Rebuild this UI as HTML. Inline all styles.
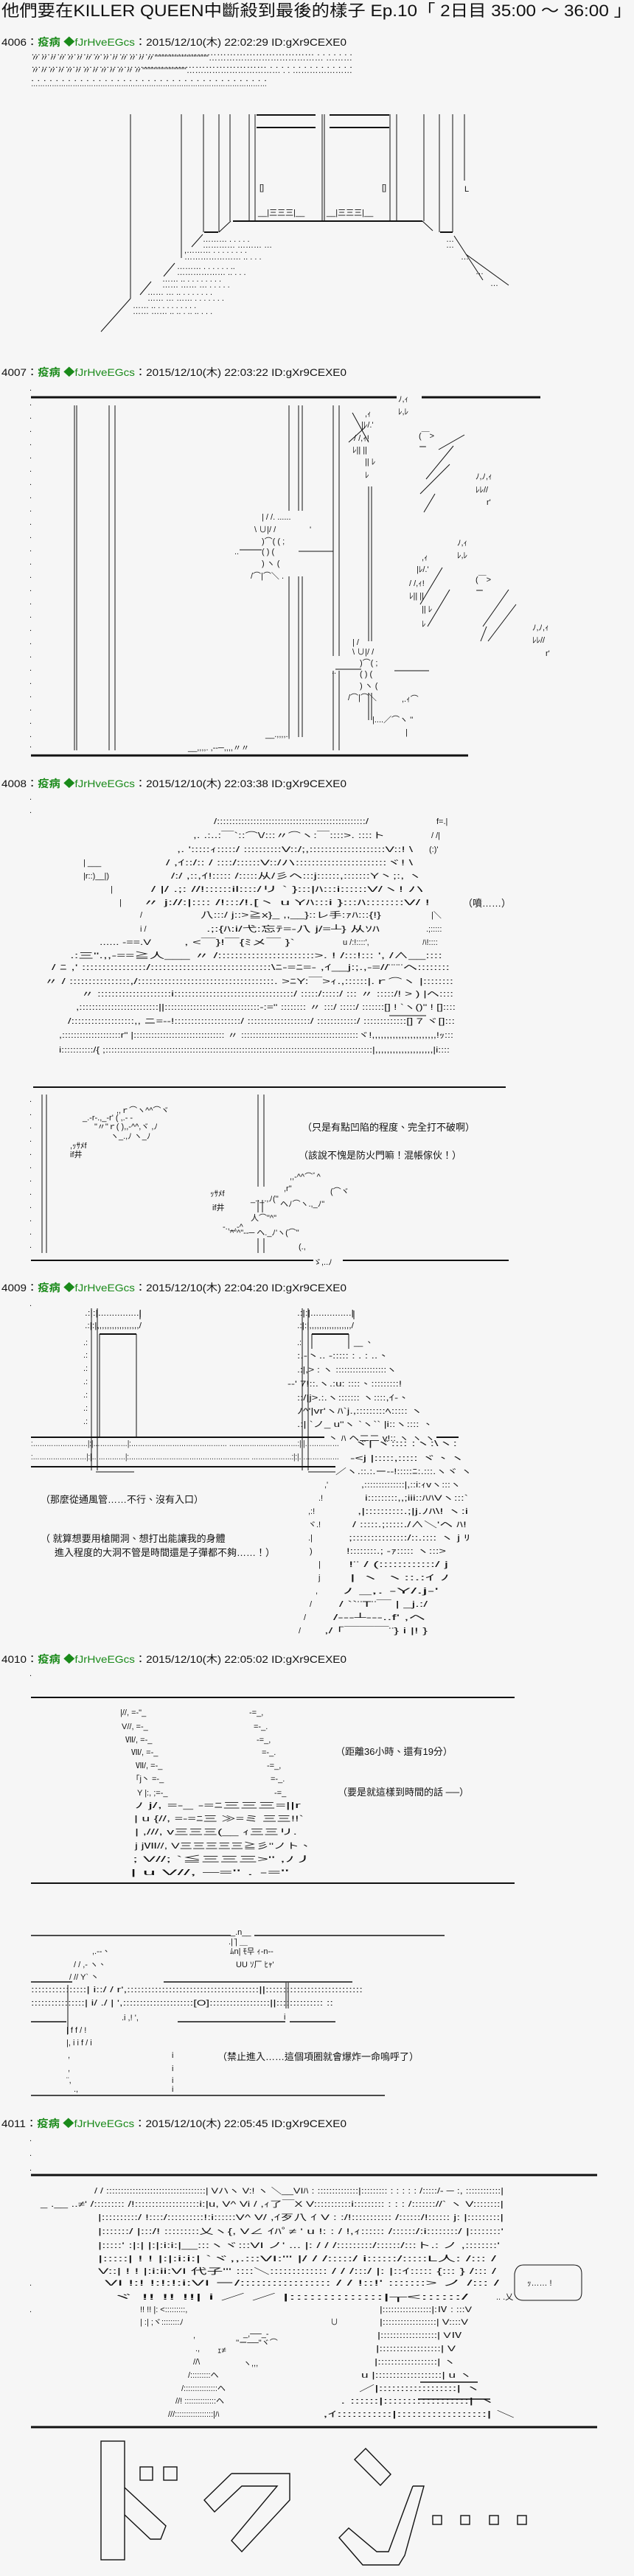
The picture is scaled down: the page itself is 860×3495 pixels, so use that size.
<!DOCTYPE html>
<html><head><meta charset="utf-8"><style>
html,body{margin:0;padding:0;background:#f6f6f6;}
svg{display:block}
text{font-family:"Liberation Sans","Noto Sans CJK TC",sans-serif;fill:#111;}
.a{font-size:11px;}
.t{font-size:13px;}
.h{font-size:14px;}
.g{fill:#1a8a1a}
line,polyline,path,rect.o,polygon{stroke:#111;fill:none;}
</style></head><body>
<svg width="860" height="3495" viewBox="0 0 860 3495" xmlns="http://www.w3.org/2000/svg">
<rect width="860" height="3495" fill="#f6f6f6"/>
<text x="2" y="22" font-size="22" textLength="855" lengthAdjust="spacingAndGlyphs">他們要在KILLER QUEEN中斷殺到最後的樣子 Ep.10「 2日目 35:00 ～ 36:00 」</text>

<!-- headers -->
<g class="h">
<text x="2" y="62" textLength="468" lengthAdjust="spacingAndGlyphs">4006：<tspan class="g" font-weight="bold">疫病</tspan><tspan class="g"> ◆fJrHveEGcs</tspan>：2015/12/10(木) 22:02:29 ID:gXr9CEXE0</text>
<text x="2" y="510" textLength="468" lengthAdjust="spacingAndGlyphs">4007：<tspan class="g" font-weight="bold">疫病</tspan><tspan class="g"> ◆fJrHveEGcs</tspan>：2015/12/10(木) 22:03:22 ID:gXr9CEXE0</text>
<text x="2" y="1068" textLength="468" lengthAdjust="spacingAndGlyphs">4008：<tspan class="g" font-weight="bold">疫病</tspan><tspan class="g"> ◆fJrHveEGcs</tspan>：2015/12/10(木) 22:03:38 ID:gXr9CEXE0</text>
<text x="2" y="1752" textLength="468" lengthAdjust="spacingAndGlyphs">4009：<tspan class="g" font-weight="bold">疫病</tspan><tspan class="g"> ◆fJrHveEGcs</tspan>：2015/12/10(木) 22:04:20 ID:gXr9CEXE0</text>
<text x="2" y="2256" textLength="468" lengthAdjust="spacingAndGlyphs">4010：<tspan class="g" font-weight="bold">疫病</tspan><tspan class="g"> ◆fJrHveEGcs</tspan>：2015/12/10(木) 22:05:02 ID:gXr9CEXE0</text>
<text x="2" y="2886" textLength="468" lengthAdjust="spacingAndGlyphs">4011：<tspan class="g" font-weight="bold">疫病</tspan><tspan class="g"> ◆fJrHveEGcs</tspan>：2015/12/10(木) 22:05:45 ID:gXr9CEXE0</text>
</g>

<!-- ===== 4006 door ===== -->
<g class="a">
<text x="42" y="75" textLength="436" lengthAdjust="spacingAndGlyphs">…………………………………………………………………………… . . . .    .      . .</text>
<text x="42" y="82" textLength="436" lengthAdjust="spacingAndGlyphs">〃〃〃〃〃〃〃〃〃〃〃〃〃〃''''''''''''''''''''''''''''''''…………………………………    ………</text>
<text x="42" y="92" textLength="436" lengthAdjust="spacingAndGlyphs">…………………………………………………………… . . . . . . .          . .    . . . . . .</text>
<text x="42" y="99" textLength="436" lengthAdjust="spacingAndGlyphs">〃〃〃〃〃〃〃〃〃〃〃〃〃'''''''''''''''''''''''''''……………………………   . . …………………</text>
<text x="42" y="110" textLength="320" lengthAdjust="spacingAndGlyphs">. . . . . . . . . . . . . . . . . . . . . . . . . . . . . . . . . . . . . . .</text>
<text x="42" y="117" textLength="320" lengthAdjust="spacingAndGlyphs">…………………………………………………………………………………………</text>
</g>
<g stroke-width="1">
<line x1="177" y1="155" x2="177" y2="405"/>
<line x1="246" y1="155" x2="246" y2="350"/>
<line x1="276" y1="155" x2="276" y2="315"/>
<line x1="297" y1="155" x2="297" y2="315"/>
<line x1="312" y1="155" x2="312" y2="300"/>
<line x1="338" y1="155" x2="338" y2="300"/>
<line x1="346" y1="155" x2="346" y2="300"/>
<line x1="437" y1="155" x2="437" y2="300"/>
<line x1="440" y1="155" x2="440" y2="300"/>
<line x1="529" y1="155" x2="529" y2="300"/>
<line x1="538" y1="155" x2="538" y2="300"/>
<line x1="575" y1="155" x2="575" y2="300"/>
<line x1="596" y1="155" x2="596" y2="315"/>
<line x1="614" y1="155" x2="614" y2="315"/>
<line x1="630" y1="155" x2="630" y2="245"/>
<line x1="348" y1="156" x2="428" y2="156" stroke-width="2"/>
<line x1="447" y1="156" x2="528" y2="156" stroke-width="2"/>
<line x1="348" y1="173" x2="428" y2="173" stroke-width="2"/>
<line x1="447" y1="173" x2="528" y2="173" stroke-width="2"/>
<line x1="316" y1="300" x2="573" y2="300" stroke-width="2"/>
<line x1="277" y1="315" x2="296" y2="315" stroke-width="2"/>
<line x1="597" y1="315" x2="614" y2="315" stroke-width="2"/>
<polyline points="297,315 313,300"/>
<polyline points="573,300 587,313"/>
<polyline points="275,318 260,335"/>
<polyline points="237,357 222,375"/>
<polyline points="205,382 190,400"/>
<polyline points="177,405 137,450"/>
<polyline points="616,320 655,380"/>
<polyline points="632,345 690,387"/>
</g>
<g class="a">
<text x="352" y="258">[]</text><text x="518" y="258">[]</text><text x="630" y="260">L</text>
<text x="350" y="292">__|三三三|__</text><text x="443" y="292">__|三三三|__</text>
<text x="275" y="328">……… . . . . .</text><text x="275" y="336">………… ……… …</text>
<text x="250" y="343">,……… . . . . . . . .</text><text x="250" y="352">………………… .. . . .</text>
<text x="240" y="365">……… . . . . . . ..</text><text x="240" y="373">……………… .. . . .</text>
<text x="220" y="382">…… .. . .  . . . . .  .</text><text x="220" y="390">…… ……  … . . . . .</text>
<text x="200" y="400">……  … .. . . .  . . . .</text><text x="200" y="408">…… … …… . . . . . . .</text>
<text x="180" y="418">…… .. . . . . . . . . .</text><text x="180" y="426">…… …… .. .. . .. .. . . .</text>
<text x="605" y="328">…</text><text x="605" y="336">…</text><text x="625" y="352">…</text><text x="645" y="372">…</text><text x="665" y="388">…</text>
</g>

<!-- ===== 4007 ===== -->
<line x1="42" y1="539" x2="538" y2="539" stroke-width="3"/>
<line x1="572" y1="539" x2="733" y2="539" stroke-width="3"/>
<g stroke-width="1">
<line x1="101" y1="550" x2="101" y2="1018"/><line x1="104" y1="550" x2="104" y2="1018"/>
<line x1="148" y1="550" x2="148" y2="1018"/><line x1="156" y1="550" x2="156" y2="1018"/>
<line x1="392" y1="550" x2="392" y2="693"/><line x1="405" y1="550" x2="405" y2="693"/><line x1="410" y1="550" x2="410" y2="693"/>
<line x1="392" y1="782" x2="392" y2="1000"/><line x1="405" y1="782" x2="405" y2="1000"/><line x1="410" y1="782" x2="410" y2="1000"/>
<line x1="452" y1="550" x2="452" y2="890"/><line x1="460" y1="550" x2="460" y2="890"/>
<line x1="452" y1="910" x2="452" y2="1018"/><line x1="460" y1="910" x2="460" y2="1018"/>
<line x1="500" y1="660" x2="500" y2="870"/><line x1="504" y1="660" x2="504" y2="870"/>
<line x1="500" y1="940" x2="500" y2="977"/><line x1="504" y1="940" x2="504" y2="977"/>
<line x1="325" y1="746" x2="355" y2="746"/><line x1="405" y1="748" x2="452" y2="748"/>
<line x1="455" y1="908" x2="490" y2="908"/><line x1="535" y1="910" x2="582" y2="910"/>
<line x1="478" y1="560" x2="500" y2="600"/><line x1="473" y1="600" x2="495" y2="580"/>
<line x1="595" y1="610" x2="630" y2="590"/><line x1="578" y1="650" x2="615" y2="605"/>
<line x1="570" y1="670" x2="610" y2="630"/><line x1="575" y1="695" x2="590" y2="670"/>
<line x1="570" y1="820" x2="600" y2="770"/><line x1="580" y1="850" x2="610" y2="800"/>
<line x1="655" y1="850" x2="690" y2="800"/><line x1="662" y1="870" x2="700" y2="820"/>
<line x1="652" y1="870" x2="660" y2="850"/>
</g>
<g class="a">
<text x="40" y="530">.</text><text x="40" y="550">.</text><text x="40" y="568">.</text><text x="40" y="586">.</text><text x="40" y="604">.</text><text x="40" y="622">.</text><text x="40" y="640">.</text><text x="40" y="658">.</text><text x="40" y="676">.</text><text x="40" y="694">.</text><text x="40" y="712">.</text><text x="40" y="730">.</text><text x="40" y="748">.</text><text x="40" y="766">.</text><text x="40" y="784">.</text><text x="40" y="802">.</text><text x="40" y="820">.</text><text x="40" y="838">.</text><text x="40" y="856">.</text><text x="40" y="874">.</text><text x="40" y="892">.</text><text x="40" y="910">.</text><text x="40" y="928">.</text><text x="40" y="946">.</text><text x="40" y="964">.</text><text x="40" y="982">.</text><text x="40" y="1000">.</text><text x="40" y="1014">.</text>
<text x="540" y="545">ﾉ,ｨ</text><text x="540" y="562">ﾚ,ﾚ</text>
<text x="495" y="565">,ｨ</text><text x="490" y="580">|ﾚ/.'</text><text x="480" y="598">/ /,ｨ!</text><text x="478" y="614">ﾚ|| ||</text><text x="495" y="630">|| ﾚ</text><text x="495" y="648">ﾚ</text>
<text x="568" y="595">(￣&gt;</text><text x="568" y="610">ー</text>
<text x="645" y="650">ﾉ,ﾉ,ｨ</text><text x="645" y="668">ﾚﾚ//</text><text x="660" y="685">r'</text>
<text x="355" y="705">|  / /. ......</text>
<text x="345" y="722">\ ∪|/ /</text><text x="420" y="722">'</text>
<text x="355" y="738">)⌒(  (  ;</text>
<text x="318" y="752">..</text><text x="355" y="752">(    ) (</text>
<text x="355" y="768">) ヽ (</text>
<text x="340" y="785">/⌒|⌒＼ .</text>
<text x="620" y="740">ﾉ,ｨ</text><text x="620" y="757">ﾚ,ﾚ</text>
<text x="572" y="760">,ｨ</text><text x="565" y="776">|ﾚ/.'</text><text x="555" y="795">/ /,ｨ!</text><text x="555" y="812">ﾚ|| ||</text><text x="572" y="830">|| ﾚ</text><text x="572" y="850">ﾚ</text>
<text x="645" y="790">(￣&gt;</text><text x="645" y="805">ー</text>
<text x="722" y="855">ﾉ,ﾉ,ｨ</text><text x="722" y="872">ﾚﾚ//</text><text x="740" y="890">r'</text>
<text x="478" y="875">| /</text>
<text x="478" y="888">\ ∪|/ /</text>
<text x="488" y="903">)⌒( ;</text>
<text x="450" y="914">..</text><text x="488" y="918">(  ) (</text>
<text x="488" y="934">) ヽ (</text>
<text x="472" y="950">/⌒|⌒＼</text>
<text x="545" y="952">,.ｨ⌒</text>
<text x="505" y="980">|....／⌒ヽ ''</text>
<text x="550" y="997">|</text>
<text x="360" y="1000">__.,,,,.|</text>
<text x="255" y="1018">__,,,,. ,--─,,,,〃〃</text>
</g>
<line x1="42" y1="1025" x2="635" y2="1025" stroke-width="3"/>

<!-- ===== 4008 ===== -->
<g class="a">
<text x="40" y="1085">.</text><text x="40" y="1103">.</text>
<text x="290" y="1118" textLength="210" lengthAdjust="spacingAndGlyphs">/:::::::::::::::::::::::::::::::::::::::::::::::::/</text>
<text x="592" y="1118">f=.|</text>
<text x="262" y="1137" textLength="260" lengthAdjust="spacingAndGlyphs">,. .:..:￣`::⌒\/:::〃⌒ヽ:￣::::&gt;. ::::ト</text><text x="585" y="1137">/ /|</text>
<text x="240" y="1156" textLength="320" lengthAdjust="spacingAndGlyphs">,. ':::::ｨ:::::/ ::::::::::V::/;,::::::::::::::::::::V::!      \</text><text x="582" y="1156">(:)'</text>
<text x="113" y="1174">|  ___</text>
<text x="225" y="1174" textLength="335" lengthAdjust="spacingAndGlyphs">/ ,ｲ::/:: / ::::/::::::V::/ハ:::::::::::::::::::::::ヾ!        \</text>
<text x="113" y="1192">|r::)__|)</text>
<text x="232" y="1192" textLength="340" lengthAdjust="spacingAndGlyphs">/:/ ,::,ｲ!::::: /:::::从/彡ヘ:::j::::::,:::::::Y丶;:,         ヽ</text>
<text x="150" y="1210">|</text>
<text x="205" y="1210" textLength="370" lengthAdjust="spacingAndGlyphs">/ |/ .;: //!::::::il::::/リ `   }:::|ﾊ:::i::::::V/ヽ!             ハ</text>
<text x="162" y="1228">|</text>
<text x="193" y="1228" textLength="390" lengthAdjust="spacingAndGlyphs">〃    j://:|:::: /!:::/!.[丶  u  Yﾊ:::i  }:::ﾊ::::::::V/              !</text>
<text x="190" y="1245">/</text>
<text x="272" y="1245" textLength="245" lengthAdjust="spacingAndGlyphs">八:::/ j::&gt;≧x}_ ,,__}::レ手:ｧﾊ:::{!}</text><text x="585" y="1245">|＼</text>
<text x="190" y="1264">i /</text>
<text x="280" y="1264" textLength="235" lengthAdjust="spacingAndGlyphs">.;:{ﾊ:i/弋:忘ﾃ=-八 j/=┴}    从ｿﾊ</text><text x="578" y="1264">.;:::::</text>
<text x="135" y="1282" textLength="70" lengthAdjust="spacingAndGlyphs">...... -==.V</text>
<text x="250" y="1282" textLength="150" lengthAdjust="spacingAndGlyphs">, &lt;￣}!￣{ﾐメ￣    }`</text><text x="465" y="1282">u /:!::::',</text><text x="573" y="1282">ﾊ!::::</text>
<text x="95" y="1300" textLength="505" lengthAdjust="spacingAndGlyphs">.:三".,,-==≧人___ 〃 /:::::::::::::::::::::::&gt;.   !                /:::!::: ',  /∧__::::</text>
<text x="70" y="1316" textLength="540" lengthAdjust="spacingAndGlyphs">/ ﾆ         ,' ::::::::::::::::/::::::::::::::::::::::::::::::\ﾆ-=ﾆ=-  ,ｲ__j:;.,-=//¨¨¨ヘ::::::::</text>
<text x="60" y="1335" textLength="555" lengthAdjust="spacingAndGlyphs">〃           / ::::::::::::::::,/::::::::::::::::::::::::::::::::::::. &gt;ﾆY:￣&gt;ｨ.,::::::|.ｒ⌒ヽ |::::::::</text>
<text x="110" y="1352" textLength="505" lengthAdjust="spacingAndGlyphs">〃 :::::::::::::::::::::i::::::::::::::::::::::::::::::::::/ :::::/:::::/ ::: 〃 :::::/!   &gt;  ) |ヘ::::</text>
<text x="103" y="1370" textLength="515" lengthAdjust="spacingAndGlyphs">,:::::::::::::::::::::::::||::::::::::::::::::::::::::::::-:=" :::::::: 〃 :::/ :::::/ :::::::[]  ! `ヽ()" ! []::::</text>
<text x="92" y="1389" textLength="525" lengthAdjust="spacingAndGlyphs">/:::::::::::::::::::,, ニ=--!::::::::::::::::::::/ :::::::::::::::::::/ ::::::::::::/ :::::::::::::[] 7              ヾ[]:::</text>
<text x="80" y="1408" textLength="535" lengthAdjust="spacingAndGlyphs">,::::::::::::::::::::r"     |::::::::::::::::::::::::::::::: 〃 ::::::::::::::::::::::::::::::::::::::::ヾ!,,,,,,,,,,,,,,,,,,,,,,!ｯ:::</text>
<text x="80" y="1428" textLength="530" lengthAdjust="spacingAndGlyphs">i:::::::::::/{         ;::::::::::::::::::::::::::::::::::::::::::::::::::::::::::::::::::::::::::::::::::::::::::::|,,,,,,,,,,,,,,,,,,,,|i::::</text>
</g>
<line x1="528" y1="1378" x2="578" y2="1378"/>
<text x="628" y="1230" class="t">（噴……）</text>

<line x1="45" y1="1475" x2="686" y2="1475" stroke-width="2"/>
<g stroke-width="1">
<line x1="57" y1="1485" x2="57" y2="1700"/><line x1="63" y1="1485" x2="63" y2="1700"/>
<line x1="350" y1="1485" x2="350" y2="1610"/><line x1="358" y1="1485" x2="358" y2="1610"/>
<line x1="350" y1="1628" x2="350" y2="1645"/><line x1="356" y1="1628" x2="356" y2="1645"/>
<line x1="350" y1="1680" x2="350" y2="1700"/><line x1="358" y1="1680" x2="358" y2="1700"/>
</g>
<g class="a">
<text x="40" y="1495">.</text><text x="40" y="1513">.</text><text x="40" y="1531">.</text><text x="40" y="1549">.</text><text x="40" y="1567">.</text><text x="40" y="1585">.</text><text x="40" y="1603">.</text><text x="40" y="1621">.</text><text x="40" y="1639">.</text><text x="40" y="1657">.</text><text x="40" y="1675">.</text><text x="40" y="1693">.</text>
<text x="158" y="1510">,,ｒ⌒ヽ^^⌒ヾ</text>
<text x="112" y="1520">_.-r‐.,_-r'        (  ,.-  -</text>
<text x="128" y="1532">"〃"ｒ(    ),,-^^,ヾ   ,ﾉ</text>
<text x="150" y="1545">ヽ_.,ﾉ           ヽ_ﾉ</text>
<text x="95" y="1558">,ｯｻﾒf</text>
<text x="95" y="1570">if井</text>
<text x="393" y="1600">,,-^^⌒ﾞ^</text>
<text x="385" y="1616">,r"</text>
<text x="285" y="1623">ｯｻﾒf</text><text x="448" y="1620">(⌒ヾ</text>
<text x="340" y="1630">_.._.,ﾉ(''</text>
<text x="380" y="1637">ヘﾉ⌒ヽ.,_ﾉ"</text>
<text x="288" y="1642">if井</text>
<text x="340" y="1656">人⌒"^"</text>
<text x="302" y="1668">-.,_.-^</text>
<text x="312" y="1676">^"^"‐-─ ヘ._ﾉ'ヽ(⌒"</text>
<text x="405" y="1695">(.,</text>
<text x="425" y="1716">ゞ,..ﾉ</text>
</g>
<text x="410" y="1534" class="t">（只是有點凹陷的程度、完全打不破啊）</text>
<text x="405" y="1572" class="t">（該說不愧是防火門嘛！混帳傢伙！）</text>
<line x1="42" y1="1710" x2="425" y2="1710" stroke-width="2"/>
<line x1="465" y1="1710" x2="690" y2="1710" stroke-width="2"/>

<!-- ===== 4009 ===== -->
<g stroke-width="1">
<line x1="124" y1="1775" x2="124" y2="1995"/><line x1="132" y1="1775" x2="132" y2="1995"/>
<line x1="135" y1="1810" x2="185" y2="1810" stroke-width="2"/>
<line x1="135" y1="1810" x2="135" y2="1950"/><line x1="185" y1="1810" x2="185" y2="1950"/>
<line x1="190" y1="1778" x2="190" y2="1790"/>
<line x1="410" y1="1775" x2="410" y2="1995"/><line x1="418" y1="1775" x2="418" y2="1995"/>
<line x1="423" y1="1810" x2="473" y2="1810" stroke-width="2"/>
<line x1="423" y1="1810" x2="423" y2="1830"/><line x1="473" y1="1810" x2="473" y2="1830"/>
<line x1="480" y1="1778" x2="480" y2="1790"/>
<line x1="42" y1="1950" x2="440" y2="1950" stroke-width="2"/>
<line x1="592" y1="1950" x2="622" y2="1950" stroke-width="2"/>
<line x1="42" y1="1990" x2="455" y2="1990" stroke-width="2"/>
<line x1="130" y1="1997" x2="182" y2="1997"/><line x1="418" y1="1997" x2="455" y2="1997"/>
</g>
<g class="a">
<text x="40" y="1772">.</text>
<text x="115" y="1785" textLength="77" lengthAdjust="spacingAndGlyphs">.:|:|...............|</text>
<text x="115" y="1802" textLength="77" lengthAdjust="spacingAndGlyphs">.:|:|,,,,,,,,,,,,,,,,,/</text>
<text x="403" y="1785" textLength="77" lengthAdjust="spacingAndGlyphs">.:|:|...............|</text>
<text x="403" y="1802" textLength="77" lengthAdjust="spacingAndGlyphs">.:|:|,,,,,,,,,,,,,,,,,/</text>
<text x="113" y="1825">.:</text><text x="113" y="1842">.:</text><text x="113" y="1860">.:</text><text x="113" y="1878">.:</text><text x="113" y="1896">.:</text><text x="113" y="1914">.:</text><text x="113" y="1932">.:</text>
<text x="403" y="1825">.:</text><text x="480" y="1825">__  、</text>
<text x="403" y="1843" textLength="125" lengthAdjust="spacingAndGlyphs">:.-丶..  -::::: :  . : ..、</text>
<text x="403" y="1862" textLength="135" lengthAdjust="spacingAndGlyphs">.:|,&gt;  :  ヽ ::::::::::::::::::ヽ</text>
<text x="390" y="1881" textLength="155" lengthAdjust="spacingAndGlyphs">--' 7!::.ヽ.:u: ::::、:::::::::!</text>
<text x="403" y="1900" textLength="152" lengthAdjust="spacingAndGlyphs">::/|j&gt;.:.ヽ:::::::  ヽ::::,ｲ-、</text>
<text x="403" y="1918" textLength="170" lengthAdjust="spacingAndGlyphs">ﾉ^'|vr'ヽﾊ`j.,:::::::::ﾍ:::::  ヽ</text>
<text x="403" y="1936" textLength="185" lengthAdjust="spacingAndGlyphs">.:| `ノ_  u"ヽ   `ヽ`` |i::ヽ::::  、</text>
<text x="445" y="1955" textLength="145" lengthAdjust="spacingAndGlyphs">丶  ﾊ ヘ二二 v!:: ヽ ヽ ヽ</text>
<text x="42" y="1962" textLength="418" lengthAdjust="spacingAndGlyphs">:……………………|:|……………|:……………………………………  …………………………:|:|……………</text>
<text x="42" y="1980" textLength="418" lengthAdjust="spacingAndGlyphs">:……………………|:|……………|:………………………………………………  ………………:|:|………………</text>
<text x="480" y="1962" textLength="140" lengthAdjust="spacingAndGlyphs">ヾ|      ヾ:::: :ヽ:\ヽ:</text>
<text x="475" y="1982" textLength="155" lengthAdjust="spacingAndGlyphs">-&lt;j       |:::::,::::: ヾ、ヽ</text>
<text x="455" y="2000" textLength="185" lengthAdjust="spacingAndGlyphs">／ヽ.::.:.ー--!:::::ﾆ:.:::.ヽヾ ヽ</text>
<text x="440" y="2018">,'</text><text x="490" y="2018" textLength="135" lengthAdjust="spacingAndGlyphs">,::::::::::::::|,::i:ｨvヽ:::ヽ</text>
<text x="432" y="2036">.!</text><text x="495" y="2036" textLength="140" lengthAdjust="spacingAndGlyphs">i:::::::::,,;iii::ﾊﾊVヽ:::`</text>
<text x="418" y="2054">,:!</text><text x="485" y="2054" textLength="150" lengthAdjust="spacingAndGlyphs">,|::::::::::.;|j.ﾉﾊ\!  ヽ:i</text>
<text x="418" y="2072">ヾ.!</text><text x="478" y="2072" textLength="155" lengthAdjust="spacingAndGlyphs">/  :::::.;:::::./∧＼'ヘ  ﾊ!</text>
<text x="418" y="2090">.|</text><text x="473" y="2090" textLength="165" lengthAdjust="spacingAndGlyphs">;:::::::::::::::/::.::::  ヽ j    ﾘ</text>
<text x="420" y="2108">)</text><text x="470" y="2108" textLength="135" lengthAdjust="spacingAndGlyphs">!::::::::.;  -ｧ::::: ヽ:::&gt;</text>
<text x="432" y="2126">|</text><text x="473" y="2126" textLength="135" lengthAdjust="spacingAndGlyphs">!¨     / (::::::::::::/  j</text>
<text x="432" y="2144">j</text><text x="475" y="2144" textLength="135" lengthAdjust="spacingAndGlyphs">|       ヽ  ヽ::.:ｲ   ﾉ</text>
<text x="428" y="2162">,</text><text x="465" y="2162" textLength="130" lengthAdjust="spacingAndGlyphs">ﾉ             _,. -Y/.j-'</text>
<text x="420" y="2180">/</text><text x="460" y="2180" textLength="120" lengthAdjust="spacingAndGlyphs">/ ``¨T¨￣ |  _j.:/</text>
<text x="412" y="2198">/</text><text x="452" y="2198" textLength="125" lengthAdjust="spacingAndGlyphs">/---┴---..f'   ,ヘ</text>
<text x="405" y="2216">/</text><text x="440" y="2216" textLength="140" lengthAdjust="spacingAndGlyphs">,/ ｢￣￣￣¨} i  |!    }</text>
</g>
<text x="55" y="2039" class="t">（那麼從通風管……不行、沒有入口）</text>
<text x="55" y="2092" class="t">（  就算想要用槍開洞、想打出能讓我的身體</text>
<text x="74" y="2111" class="t">進入程度的大洞不管是時間還是子彈都不夠……！）</text>

<!-- ===== 4010 ===== -->
<line x1="42" y1="2303" x2="698" y2="2303" stroke-width="2"/>
<g class="a">
<text x="40" y="2274">.</text>
<text x="163" y="2327">|//,   =-"_</text><text x="338" y="2327">-=_,</text>
<text x="165" y="2346">V//,   =-_</text><text x="344" y="2346">=-_.</text>
<text x="170" y="2364">Ⅶ/,   =-_</text><text x="348" y="2364">-=_,</text>
<text x="178" y="2381">Ⅶ/,   =-_</text><text x="355" y="2381">=-_.</text>
<text x="184" y="2399">Ⅶ/,   =-_</text><text x="362" y="2399">-=_,</text>
<text x="184" y="2417">｢j丶   =-_</text><text x="367" y="2417">=-_.</text>
<text x="186" y="2436">Y   |:,  ;=-_</text><text x="372" y="2436">-=_</text>
<text x="183" y="2453" textLength="225" lengthAdjust="spacingAndGlyphs">ﾉ    j/,  =-_              -=ﾆ三三三=||r</text>
<text x="182" y="2471" textLength="230" lengthAdjust="spacingAndGlyphs">| u  {//,   =-=ﾆ三 ≫=ミ 三三!!`</text>
<text x="183" y="2489" textLength="220" lengthAdjust="spacingAndGlyphs">|       ,///, v三三三(__   ｨ三三リ.</text>
<text x="183" y="2508" textLength="240" lengthAdjust="spacingAndGlyphs">j       jⅦ//, V三三三三三≧彡"ノト、</text>
<text x="180" y="2526" textLength="245" lengthAdjust="spacingAndGlyphs">;          V//;  `≦三三三&gt;"          ,ﾉ丿</text>
<text x="177" y="2544" textLength="215" lengthAdjust="spacingAndGlyphs">|         u  V//,      ─="   .   -="</text>
</g>
<text x="455" y="2381" class="t">（距離36小時、還有19分）</text>
<text x="458" y="2436" class="t">（要是就這樣到時間的話 ──）</text>
<line x1="42" y1="2555" x2="698" y2="2555" stroke-width="2"/>

<line x1="42" y1="2626" x2="313" y2="2626" stroke-width="1.5"/>
<line x1="345" y1="2626" x2="603" y2="2626" stroke-width="1.5"/>
<g class="a">
<text x="313" y="2625">_.n__</text>
<text x="310" y="2638">.| ̄|    ＿</text>
<text x="312" y="2651">ﾑn|    ﾓ무    ｨ-n--</text>
<text x="320" y="2669">UU    ｿ厂    ﾋｬ'</text>
<text x="125" y="2651">,.--、</text>
<text x="100" y="2669">/  / ,-  ヽ、</text>
<text x="94" y="2686">/   //    Y`  丶</text>
<text x="42" y="2703" textLength="450" lengthAdjust="spacingAndGlyphs">::::::::::::::::|    i::/     /     r',::::::::::::::::::::::::::::::::::::::||::::::::::::::::::::::::::::</text>
<text x="42" y="2721" textLength="410" lengthAdjust="spacingAndGlyphs">::::::::::::::::|    i/     ./      | ',:::::::::::::::::::::[O]::::::::::::::::::||::::::::::::::  ::</text>
<text x="165" y="2741">.i        ,!    ',</text><text x="385" y="2740">i</text>
<text x="90" y="2758">|   f     f           /      !</text>
<text x="90" y="2775">|,  i     i       f /       i</text>
<text x="92" y="2792">,</text><text x="233" y="2792">i</text>
<text x="92" y="2810">,</text><text x="233" y="2810">i</text>
<text x="90" y="2826">¨,</text><text x="233" y="2826">i</text>
<text x="100" y="2838">.,</text><text x="233" y="2838">i</text>
</g>
<line x1="42" y1="2689" x2="98" y2="2689" stroke-width="1.5"/>
<line x1="222" y1="2689" x2="478" y2="2689" stroke-width="1.5"/>
<line x1="42" y1="2743" x2="90" y2="2743" stroke-width="1.5"/>
<line x1="241" y1="2743" x2="387" y2="2743" stroke-width="1.5"/>
<line x1="393" y1="2743" x2="455" y2="2743" stroke-width="1.5"/>
<line x1="92" y1="2693" x2="92" y2="2760"/>
<line x1="388" y1="2690" x2="388" y2="2725"/><line x1="391" y1="2690" x2="391" y2="2725"/>
<text x="295" y="2795" class="t">（禁止進入……這個項圈就會爆炸一命嗚呼了）</text>
<line x1="42" y1="2843" x2="522" y2="2843" stroke-width="1.5"/>

<!-- ===== 4011 ===== -->
<g class="a">
<text x="40" y="2905">.</text><text x="40" y="2925">.</text><text x="40" y="2945">.</text>
</g>
<line x1="42" y1="2951" x2="810" y2="2951" stroke-width="3"/>
<g class="a">
<text x="128" y="2976" textLength="555" lengthAdjust="spacingAndGlyphs">/ / ::::::::::::::::::::::::::::::::::|  Vハヽ V:!    ヽ    ＼__VIﾊ : ::::::::::::::|::::::::: : : : : : /:::::/- ─ :, ::::::::::::|</text>
<text x="55" y="2994" textLength="628" lengthAdjust="spacingAndGlyphs">_ .__ ..≠'  /::::::::: /!:::::::::::::::::::i:|u, V^ Vi   / ,ｨ了￣X V:::::::::::i::::::::: : : : /::::::://`  ヽ  V::::::::|</text>
<text x="133" y="3012" textLength="550" lengthAdjust="spacingAndGlyphs">|::::::::::/ !::::/::::::::::!:i::::::V^ V/ ,ｲ歹八  ｲ     V : :/!::::::::::: /::::::/!::::::  j:  |:::::::::|</text>
<text x="133" y="3031" textLength="550" lengthAdjust="spacingAndGlyphs">|:::::::/   |:::/! :::::::::乂ヽ{, V∠ ｲﾊﾟ≠  '          u !: : /  !,ｨ:::::: /::::::/:i::::::::/   |::::::::'</text>
<text x="133" y="3050" textLength="545" lengthAdjust="spacingAndGlyphs">|:::::'    :|:| |:|:i:i:|__:::ヽヾ:::VI ノ'    ...                |: /  / /:::::::::/::::::/:::ト.: ノ       ,::::::::'</text>
<text x="133" y="3068" textLength="540" lengthAdjust="spacingAndGlyphs">|:::::|     ! ! |:|:i:i:|   `ヾ,,.:::VI:"'                      |/  / /:::::/ i::::::/:::::L人:       /::: /</text>
<text x="133" y="3085" textLength="540" lengthAdjust="spacingAndGlyphs">V::|      ! ! |:i:ii:VI 代子"'  ::::＼:::::::::::::               /  / /:::/ |: |::ｲ::::: {::: }   /::: /</text>
<text x="40" y="3101">.</text>
<text x="142" y="3101" textLength="535" lengthAdjust="spacingAndGlyphs">VI      !:! !:!:!:i:VI ー/:::::::::::::::::                     / /      !::!'  :::::::&gt;  ノ  /::: /</text>
<text x="150" y="3120" textLength="485" lengthAdjust="spacingAndGlyphs">ヾ      !! !! !!|   i ／                                 ／        |::::::::::::::|┬&lt;::::::/</text>
<text x="673" y="3120">.. .乂</text>
<text x="40" y="3137">.</text>
<text x="190" y="3137">!! !! |:  &lt;:::::::::,</text>
<text x="515" y="3137" textLength="125" lengthAdjust="spacingAndGlyphs">|:::::::::::::::::|:Ⅳ : :::V</text>
<text x="190" y="3154">|  :|      ;ヾ::::::::ﾉ</text>
<text x="448" y="3154">∪</text><text x="515" y="3154" textLength="120" lengthAdjust="spacingAndGlyphs">|::::::::::::::::::|  V::::V</text>
<text x="262" y="3172">,</text><text x="330" y="3170">_,──_-</text>
<text x="512" y="3172" textLength="115" lengthAdjust="spacingAndGlyphs">|::::::::::::::::::|    VⅣ</text>
<text x="265" y="3190">.,</text><text x="320" y="3182">''ー──"ヾ⌒</text>
<text x="295" y="3192">ｪ≠</text>
<text x="510" y="3190" textLength="108" lengthAdjust="spacingAndGlyphs">|::::::::::::::::::|      V</text>
<text x="262" y="3208">//\</text><text x="330" y="3210">ヽ,,,</text>
<text x="508" y="3208" textLength="110" lengthAdjust="spacingAndGlyphs">|::::::::::::::::::|       ヽ</text>
<text x="255" y="3226">/:::::::::ヘ</text>
<text x="490" y="3226" textLength="150" lengthAdjust="spacingAndGlyphs">u |:::::::::::::::::::| u           ヽ</text>
<text x="246" y="3244">/:::::::::::::::ヘ</text>
<text x="487" y="3244" textLength="165" lengthAdjust="spacingAndGlyphs">／|::::::::::::::::::|                   ヽ</text>
<text x="238" y="3261">//! ::::::::::::::ヘ</text>
<text x="462" y="3261" textLength="210" lengthAdjust="spacingAndGlyphs">. ::::::|::::::::::::::::::|                           ヽ</text>
<text x="228" y="3279">///:::::::::::::::::|ﾊ</text>
<text x="438" y="3279" textLength="260" lengthAdjust="spacingAndGlyphs">,ｲ:::::::::::|::::::::::::::::::|                                       ＼</text>
</g>
<line x1="570" y1="3232" x2="648" y2="3232" stroke-width="1.5"/>
<line x1="567" y1="3255" x2="665" y2="3255" stroke-width="1.5"/>
<!-- speech bubble -->
<path d="M710,3073 Q700,3073 698,3085 L698,3112 Q700,3121 710,3121 L780,3121 Q789,3121 789,3110 L789,3085 Q789,3073 778,3073 Z"/>
<text x="715" y="3101" class="a">ｯ……  !</text>
<line x1="42" y1="3293" x2="810" y2="3293" stroke-width="3"/>

<!-- ドン -->
<g stroke-width="1.4">
<rect class="o" x="137" y="3312" width="32" height="161"/>
<polyline points="169,3375 225,3427 218,3445 204,3445 169,3412"/>
<rect class="o" x="190" y="3347" width="17" height="18"/>
<rect class="o" x="222" y="3347" width="18" height="18"/>
<polyline points="314,3356 393,3356 393,3392 328,3462 314,3447 376,3373 328,3373 291,3408 277,3392 314,3356"/>
<polygon points="481,3337 496,3322 530,3357 516,3372"/>
<polyline points="560,3373 575,3373 549,3467 541,3480 492,3480 460,3443 473,3430 511,3462 527,3462 560,3373"/>
<rect class="o" x="587" y="3413" width="12" height="12"/>
<rect class="o" x="625" y="3413" width="12" height="12"/>
<rect class="o" x="664" y="3413" width="12" height="12"/>
<rect class="o" x="702" y="3413" width="12" height="12"/>
</g>
</svg>
</body></html>
